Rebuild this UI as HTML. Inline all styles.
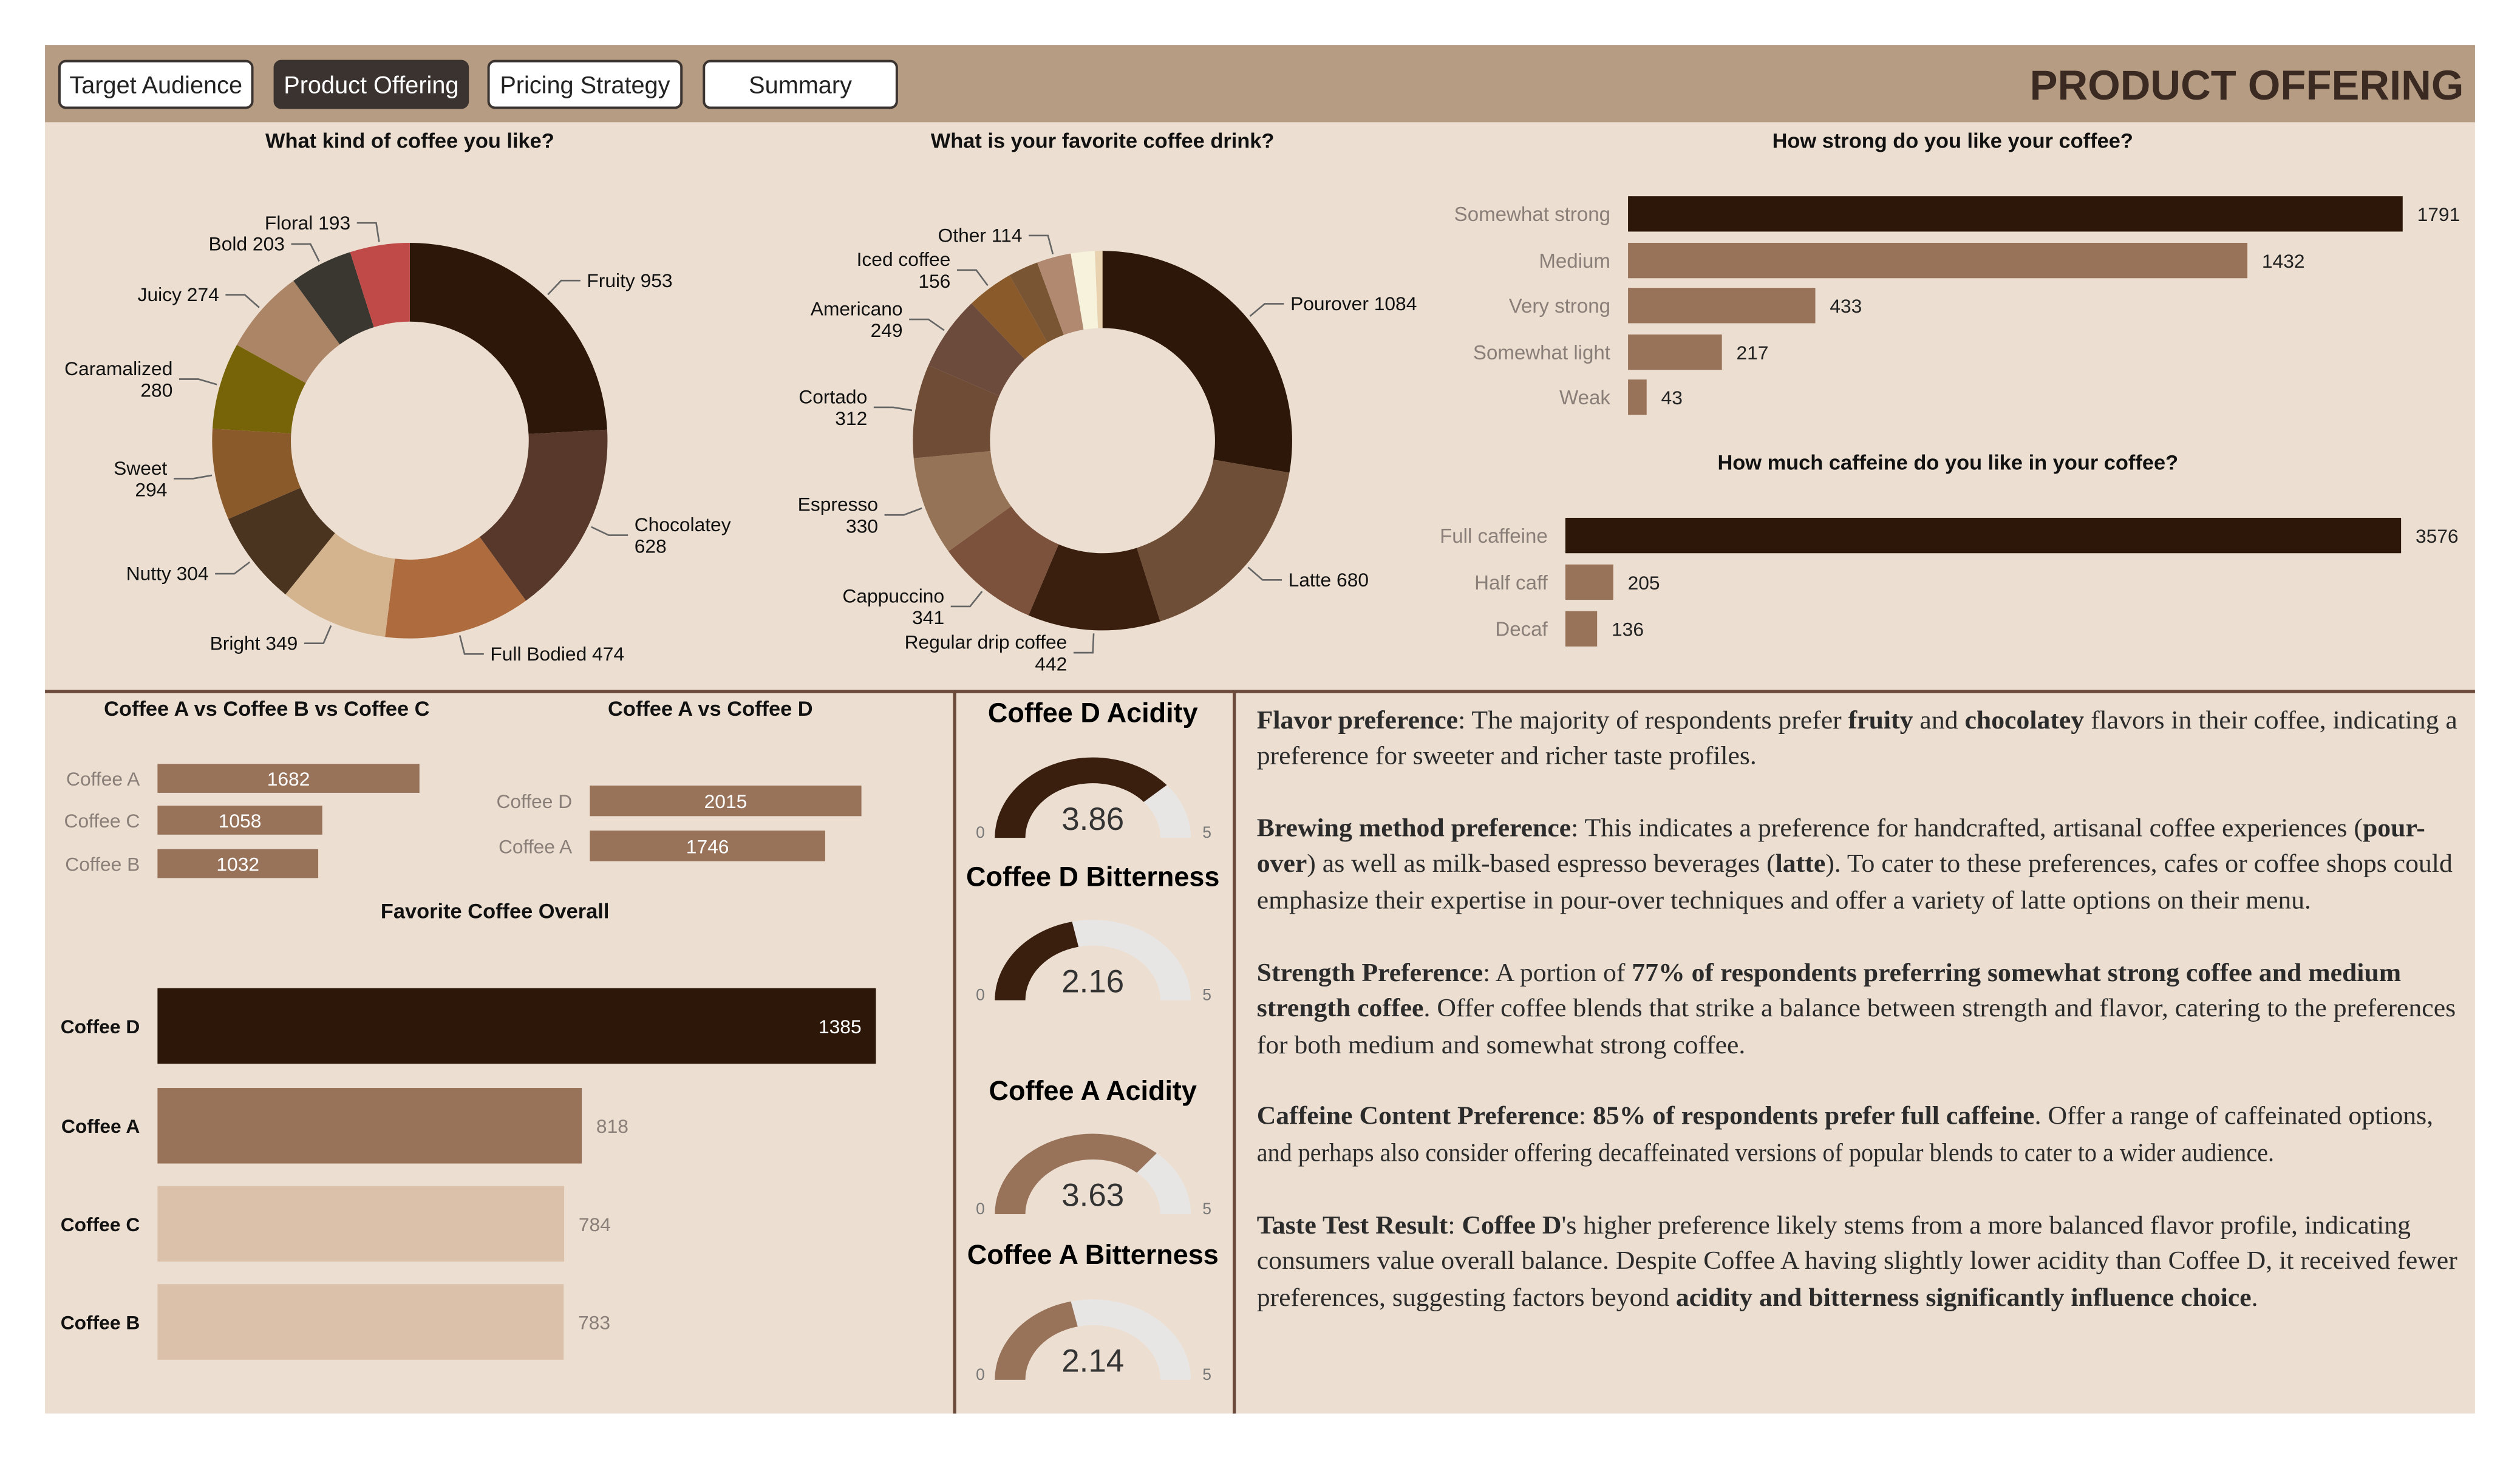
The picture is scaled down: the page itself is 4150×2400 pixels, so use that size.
<!DOCTYPE html>
<html><head><meta charset="utf-8"><style>
html,body{margin:0;padding:0;background:#fff;}
svg{display:block;}
text{font-family:"Liberation Sans",sans-serif;}
.serif text{font-family:"Liberation Serif",serif;font-size:16px;fill:#2b2b2b;}
</style></head><body>
<svg id="root" width="4150" height="2400" viewBox="0 0 1568 906" preserveAspectRatio="none" xmlns="http://www.w3.org/2000/svg">
<rect x="0" y="0" width="1568" height="906" fill="#ffffff"/>
<rect x="28" y="28" width="1512" height="851" fill="#ecdfd1"/>
<rect x="28" y="28" width="1512" height="48" fill="#b59c83"/>
<g><rect x="37" y="38" width="120" height="29" rx="4" fill="#fff" stroke="#3a3330" stroke-width="1.5"/><text x="97" y="58" text-anchor="middle" font-size="15" fill="#222">Target Audience</text></g>
<g><rect x="171" y="38" width="120" height="29" rx="4" fill="#3a3330" stroke="#3a3330" stroke-width="1.5"/><text x="231" y="58" text-anchor="middle" font-size="15" fill="#fff">Product Offering</text></g>
<g><rect x="304" y="38" width="120" height="29" rx="4" fill="#fff" stroke="#3a3330" stroke-width="1.5"/><text x="364" y="58" text-anchor="middle" font-size="15" fill="#222">Pricing Strategy</text></g>
<g><rect x="438" y="38" width="120" height="29" rx="4" fill="#fff" stroke="#3a3330" stroke-width="1.5"/><text x="498" y="58" text-anchor="middle" font-size="15" fill="#222">Summary</text></g>
<text x="1533" y="62" text-anchor="end" font-size="26" font-weight="bold" fill="#3a2a22">PRODUCT OFFERING</text>

<line x1="28" y1="430" x2="1540" y2="430" stroke="#6b4a3c" stroke-width="2"/>
<line x1="594" y1="430" x2="594" y2="879" stroke="#6b4a3c" stroke-width="2"/>
<line x1="768" y1="430" x2="768" y2="879" stroke="#6b4a3c" stroke-width="2"/>

<text x="255" y="92" text-anchor="middle" font-size="13" font-weight="bold" fill="#111">What kind of coffee you like?</text>
<text x="686" y="92" text-anchor="middle" font-size="13" font-weight="bold" fill="#111">What is your favorite coffee drink?</text>
<text x="1215" y="92" text-anchor="middle" font-size="13" font-weight="bold" fill="#111">How strong do you like your coffee?</text>
<text x="1212" y="292" text-anchor="middle" font-size="13" font-weight="bold" fill="#111">How much caffeine do you like in your coffee?</text>
<text x="166" y="445" text-anchor="middle" font-size="13" font-weight="bold" fill="#111">Coffee A vs Coffee B vs Coffee C</text>
<text x="442" y="445" text-anchor="middle" font-size="13" font-weight="bold" fill="#111">Coffee A vs Coffee D</text>
<text x="308" y="571" text-anchor="middle" font-size="13" font-weight="bold" fill="#111">Favorite Coffee Overall</text>

<g id="charts"></g>
<g id="gauges"></g>

<g class="serif">
<text x="782" y="453" textLength="747" lengthAdjust="spacingAndGlyphs"><tspan font-weight="bold">Flavor preference</tspan>: The majority of respondents prefer <tspan font-weight="bold">fruity</tspan> and <tspan font-weight="bold">chocolatey</tspan> flavors in their coffee, indicating a</text>
<text x="782" y="475" textLength="311" lengthAdjust="spacingAndGlyphs">preference for sweeter and richer taste profiles.</text>
<text x="782" y="520" textLength="727" lengthAdjust="spacingAndGlyphs"><tspan font-weight="bold">Brewing method preference</tspan>: This indicates a preference for handcrafted, artisanal coffee experiences (<tspan font-weight="bold">pour-</tspan></text>
<text x="782" y="542" textLength="744" lengthAdjust="spacingAndGlyphs"><tspan font-weight="bold">over</tspan>) as well as milk-based espresso beverages (<tspan font-weight="bold">latte</tspan>). To cater to these preferences, cafes or coffee shops could</text>
<text x="782" y="565" textLength="656" lengthAdjust="spacingAndGlyphs">emphasize their expertise in pour-over techniques and offer a variety of latte options on their menu.</text>
<text x="782" y="610" textLength="712" lengthAdjust="spacingAndGlyphs"><tspan font-weight="bold">Strength Preference</tspan>: A portion of <tspan font-weight="bold">77% of respondents preferring somewhat strong coffee and medium</tspan></text>
<text x="782" y="632" textLength="746" lengthAdjust="spacingAndGlyphs"><tspan font-weight="bold">strength coffee</tspan>. Offer coffee blends that strike a balance between strength and flavor, catering to the preferences</text>
<text x="782" y="655" textLength="304" lengthAdjust="spacingAndGlyphs">for both medium and somewhat strong coffee.</text>
<text x="782" y="699" textLength="732" lengthAdjust="spacingAndGlyphs"><tspan font-weight="bold">Caffeine Content Preference</tspan>: <tspan font-weight="bold">85% of respondents prefer full caffeine</tspan>. Offer a range of caffeinated options,</text>
<text x="782" y="722" textLength="633" lengthAdjust="spacingAndGlyphs">and perhaps also consider offering decaffeinated versions of popular blends to cater to a wider audience.</text>
<text x="782" y="767" textLength="718" lengthAdjust="spacingAndGlyphs"><tspan font-weight="bold">Taste Test Result</tspan>: <tspan font-weight="bold">Coffee D</tspan>'s higher preference likely stems from a more balanced flavor profile, indicating</text>
<text x="782" y="789" textLength="747" lengthAdjust="spacingAndGlyphs">consumers value overall balance. Despite Coffee A having slightly lower acidity than Coffee D, it received fewer</text>
<text x="782" y="812" textLength="623" lengthAdjust="spacingAndGlyphs">preferences, suggesting factors beyond <tspan font-weight="bold">acidity and bitterness significantly influence choice</tspan>.</text>
</g>
</svg>
<script>
const flavorLabels = ["Fruity","Chocolatey","Full Bodied","Bright","Nutty","Sweet","Caramalized","Juicy","Bold","Floral"];
const flavorValues = [953,628,474,349,304,294,280,274,203,193];
const flavorColors = ["#2d1709","#58382a","#ae6b3e","#d4b48e","#4a3420","#8b5a2b","#776408","#ac8566","#3a3730","#c04a47"];
const flavorWrap = [false,true,false,false,false,true,true,false,false,false];
const drinkLabels = ["Pourover","Latte","Regular drip coffee","Cappuccino","Espresso","Cortado","Americano","Iced coffee","","Other","",""];
const drinkValues = [1084,680,442,341,330,312,249,156,100,114,80,25];
const drinkColors = ["#2d1709","#6f4e37","#3a1f0e","#7d523d","#957356","#6e4c36","#6c4a3c","#8a5a2b","#7a5533","#b08970","#f6f2dc","#e8d2b0"];
const drinkWrap = [false,false,true,true,true,true,true,true,false,false,false,false];
const strengthLabels = ["Somewhat strong","Medium","Very strong","Somewhat light","Weak"];
const strengthValues = [1791,1432,433,217,43];
const caffeineLabels = ["Full caffeine","Half caff","Decaf"];
const caffeineValues = [3576,205,136];
const abcLabels = ["Coffee A","Coffee C","Coffee B"];
const abcValues = [1682,1058,1032];
const adLabels = ["Coffee D","Coffee A"];
const adValues = [2015,1746];
const favLabels = ["Coffee D","Coffee A","Coffee C","Coffee B"];
const favValues = [1385,818,784,783];
const gaugeTitles = ["Coffee D Acidity","Coffee D Bitterness","Coffee A Acidity","Coffee A Bitterness"];
const gaugeValues = [3.86,2.16,3.63,2.14];
const gaugeMax = 5;

const NS = "http://www.w3.org/2000/svg";
const charts = document.getElementById("charts");
const gauges = document.getElementById("gauges");
function mk(tag, attrs, parent){const e=document.createElementNS(NS,tag);for(const k in attrs)e.setAttribute(k,attrs[k]);parent.appendChild(e);return e;}
function slug(s){return s.toLowerCase().replace(/[^a-z0-9]+/g,"-").replace(/^-|-$/g,"");}

function donut(prefix,cx,cy,R,r,vals,labs,cols,wrap){
  const total=vals.reduce((a,b)=>a+b,0);
  let a0=-Math.PI/2;
  vals.forEach((v,i)=>{
    const a1=a0+v/total*2*Math.PI;
    const large=(a1-a0)>Math.PI?1:0;
    const p=(rad,a)=>[cx+rad*Math.cos(a),cy+rad*Math.sin(a)];
    const [x0,y0]=p(R,a0),[x1,y1]=p(R,a1),[x2,y2]=p(r,a1),[x3,y3]=p(r,a0);
    const path=mk("path",{d:`M${x0},${y0}A${R},${R} 0 ${large} 1 ${x1},${y1}L${x2},${y2}A${r},${r} 0 ${large} 0 ${x3},${y3}Z`,fill:cols[i]},charts);
    
    
    if(labs[i]){
      const am=(a0+a1)/2, right=Math.cos(am)>=0;
      const [lx1,ly1]=p(R+2,am),[lx2,ly2]=p(R+14,am);
      const lx3=lx2+(right?12:-12);
      const ln=mk("polyline",{points:`${lx1},${ly1} ${lx2},${ly2} ${lx3},${ly2}`,fill:"none",stroke:"#666",'stroke-width':1},charts);
      
      
      const lines = wrap[i] ? [labs[i], String(v)] : [labs[i]+" "+v];
      const t=mk("text",{x:lx3+(right?4:-4),y:ly2+4-(lines.length-1)*6.5,'text-anchor':right?"start":"end",'font-size':12,fill:"#111"},charts);
      
      
      lines.forEach((s,k)=>{const ts=mk("tspan",{x:lx3+(right?4:-4),dy:k?13.5:0},t);ts.textContent=s;});
    }
    a0=a1;
  });
}
donut("flavor",255,274,123,74,flavorValues,flavorLabels,flavorColors,flavorWrap);
donut("drink",686,274,118,70,drinkValues,drinkLabels,drinkColors,drinkWrap);

function hbars(prefix,x0,maxW,maxV,ys,h,vals,labs,colorFn,opts){
  vals.forEach((v,i)=>{
    const w=v/maxV*maxW;
    const b=mk("rect",{x:x0,y:ys[i]-h/2,width:w,height:h,fill:colorFn(i)},charts);
    
    
    const l=mk("text",{x:x0-(opts.labGap||11),y:ys[i]+4.5,'text-anchor':'end','font-size':opts.labSize||12.5,fill:opts.labColor||"#8a7f78",'font-weight':opts.labBold?'bold':'normal'},charts);
    l.textContent=labs[i];
    
    
    const inside=opts.inside && opts.inside(i);
    const vt=mk("text",{x:inside==='center'?x0+w/2:inside==='end'?x0+w-9:x0+w+9,y:ys[i]+4.5,'text-anchor':inside==='center'?'middle':inside==='end'?'end':'start','font-size':opts.valSize||12,fill:inside?'#fff':(opts.valColor||'#222')},charts);
    vt.textContent=v;
    
    
  });
}
hbars("strength",1013,482,1791,[133,162,190,219,247],22,strengthValues,strengthLabels,i=>i===0?"#2d1709":"#98735a",{});
hbars("caffeine",974,520,3576,[333,362,391],22,caffeineValues,caffeineLabels,i=>i===0?"#2d1709":"#98735a",{});
hbars("abc",98,163,1682,[484,510,537],18,abcValues,abcLabels,()=>"#98735a",{inside:()=> 'center',labSize:12});
hbars("ad",367,169,2015,[498,526],19,adValues,adLabels,()=>"#98735a",{inside:()=> 'center',labSize:12});
hbars("favorite",98,447,1385,[638,700,761,822],47,favValues,favLabels,i=>["#2d1709","#98735a","#dbc1a9","#dbc1a9"][i],{inside:i=>i===0?'end':false,labBold:true,labColor:"#111",labSize:12,valColor:"#8a7f78",labGap:11});

const gy=[521,622,755,858], ty=[449,551,684,786];
gaugeValues.forEach((v,i)=>{
  const cx=680,cy=gy[i],R=61,Ry=50,r=42,ry=34;
  const arc=(f0,f1,col,name)=>{
    const a0=Math.PI*(1+f0),a1=Math.PI*(1+f1);
    const P=(rx,rr,a)=>[cx+rx*Math.cos(a),cy+rr*Math.sin(a)];
    const [x0,y0]=P(R,Ry,a0),[x1,y1]=P(R,Ry,a1),[x2,y2]=P(r,ry,a1),[x3,y3]=P(r,ry,a0);
    const p=mk("path",{d:`M${x0},${y0}A${R},${Ry} 0 0 1 ${x1},${y1}L${x2},${y2}A${r},${ry} 0 0 0 ${x3},${y3}Z`,fill:col},gauges);
    
    
  };
  const col=i<2?"#3a1f0e":"#98735a";
  arc(0,1,"#e8e6e4",slug(gaugeTitles[i])+'-gauge-track');
  arc(0,v/gaugeMax,col,slug(gaugeTitles[i])+'-gauge-fill');
  const t=mk("text",{x:cx,y:ty[i],'text-anchor':'middle','font-size':17,'font-weight':'bold',fill:'#000'},gauges);
  t.textContent=gaugeTitles[i];
  
  
  const vt=mk("text",{x:cx,y:cy-5,'text-anchor':'middle','font-size':20,fill:'#333'},gauges);
  vt.textContent=v.toFixed(2);
  
  
  const z=mk("text",{x:610,y:cy,'text-anchor':'middle','font-size':10,fill:'#777'},gauges);
  z.textContent="0";
  
  
  const m=mk("text",{x:751,y:cy,'text-anchor':'middle','font-size':10,fill:'#777'},gauges);
  m.textContent=String(gaugeMax);
  
  
});
</script>
</body></html>
